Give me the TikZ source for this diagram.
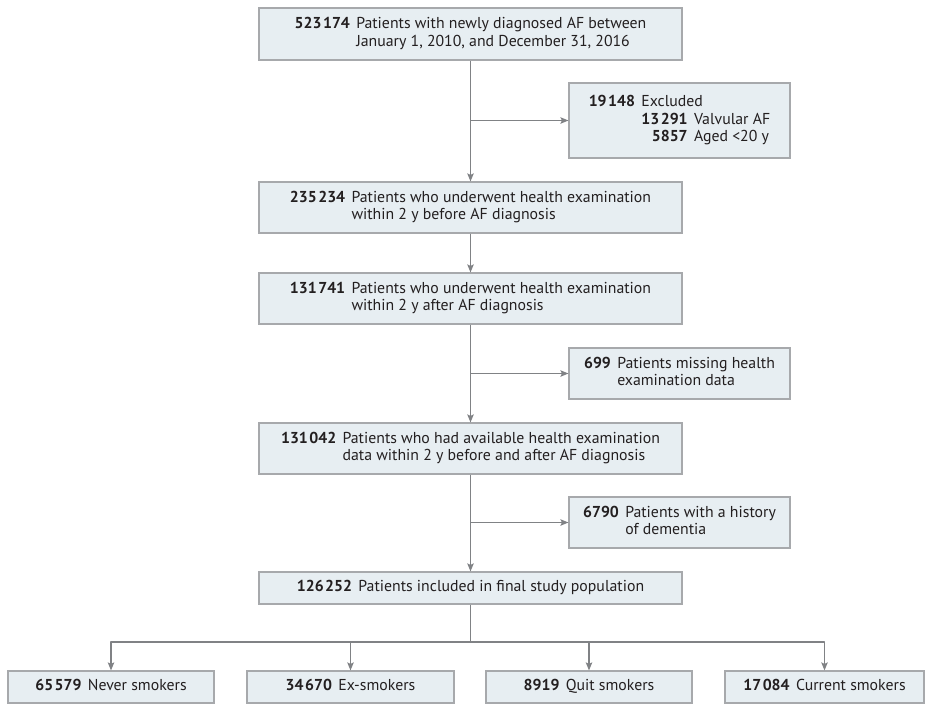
\documentclass[tikz,border=0pt]{standalone}
\usepackage{fontspec}
\setmainfont{PT Sans}
\usetikzlibrary{arrows.meta}
\definecolor{boxfill}{HTML}{E7EEF2}
\definecolor{boxline}{HTML}{A7A9AC}
\definecolor{arrowgray}{HTML}{808285}
\definecolor{textdark}{HTML}{231F20}
\newcommand{\thsp}{\hspace{1.5pt}}
\newcommand{\flowtext}[2]{\begin{tabular}{@{}r@{\hspace{.4em}}l@{}}\textbf{#1}&#2\end{tabular}}
\begin{document}
\begin{tikzpicture}[x=1pt,y=-1pt,
  every node/.style={font=\fontsize{15.8}{17.7}\selectfont,text=textdark},
  flowbox/.style={draw=boxline,fill=boxfill,line width=1.2pt,inner sep=0pt},
  mainbox/.style={flowbox,minimum width=423,minimum height=51},
  sidebox/.style={flowbox,minimum width=221,minimum height=51},
  smokebox/.style={flowbox,minimum width=206,minimum height=32},
  flowline/.style={draw=arrowgray,line width=1.2pt,line join=round},
  flowarrow/.style={flowline,-{Stealth[length=8pt,width=6.5pt,inset=1.5pt]}}]
\useasboundingbox (0,0) rectangle (925,704);
% main column
\node[mainbox,minimum height=52] (n1) at (470.5,34) {\flowtext{523\thsp174}{Patients with newly diagnosed AF between\\&January 1, 2010, and December 31, 2016}};
\node[mainbox] (n2) at (470.5,207.5) {\flowtext{235\thsp234}{Patients who underwent health examination\\&within 2 y before AF diagnosis}};
\node[mainbox] (n3) at (470.5,298.5) {\flowtext{131\thsp741}{Patients who underwent health examination\\&within 2 y after AF diagnosis}};
\node[mainbox] (n4) at (470.5,448.5) {\flowtext{131\thsp042}{Patients who had available health examination\\&data within 2 y before and after AF diagnosis}};
\node[mainbox,minimum height=32] (n5) at (470.5,588) {\flowtext{126\thsp252}{Patients included in final study population}};
% exclusions
\node[sidebox,minimum height=75] (ex1) at (679.5,120.5) {\begin{tabular}{@{}r@{\hspace{.4em}}r@{\hspace{.4em}}l@{}}\textbf{19\thsp148}&\multicolumn{2}{@{}l@{}}{Excluded}\\&\textbf{13\thsp291}&Valvular AF\\&\textbf{5857}&Aged <20 y\end{tabular}};
\node[sidebox] (ex2) at (679.5,373.5) {\flowtext{699}{Patients missing health\\&examination data}};
\node[sidebox] (ex3) at (679.5,522.5) {\flowtext{6790}{Patients with a history\\&of dementia}};
% smoking groups
\node[smokebox] (sA) at (111,687) {\flowtext{65\thsp579}{Never smokers}};
\node[smokebox,minimum width=207] (sB) at (350.5,687) {\flowtext{34\thsp670}{Ex-smokers}};
\node[smokebox] (sC) at (589,687) {\flowtext{8919}{Quit smokers}};
\node[smokebox,minimum width=199] (sD) at (824.5,687) {\flowtext{17\thsp084}{Current smokers}};
% connectors
\draw[flowarrow] (n1) -- (n2);
\draw[flowarrow] (n1.south |- ex1.west) -- (ex1.west);
\draw[flowarrow] (n2) -- (n3);
\draw[flowarrow] (n3) -- (n4);
\draw[flowarrow] (n3.south |- ex2.west) -- (ex2.west);
\draw[flowarrow] (n4) -- (n5);
\draw[flowarrow] (n4.south |- ex3.west) -- (ex3.west);
\coordinate (split) at (470.5,642);
\draw[flowline] (n5) -- (split);
\foreach \s in {sA,sB,sC,sD}
  \draw[flowarrow] (split) -| (\s.north);
\end{tikzpicture}
\end{document}
